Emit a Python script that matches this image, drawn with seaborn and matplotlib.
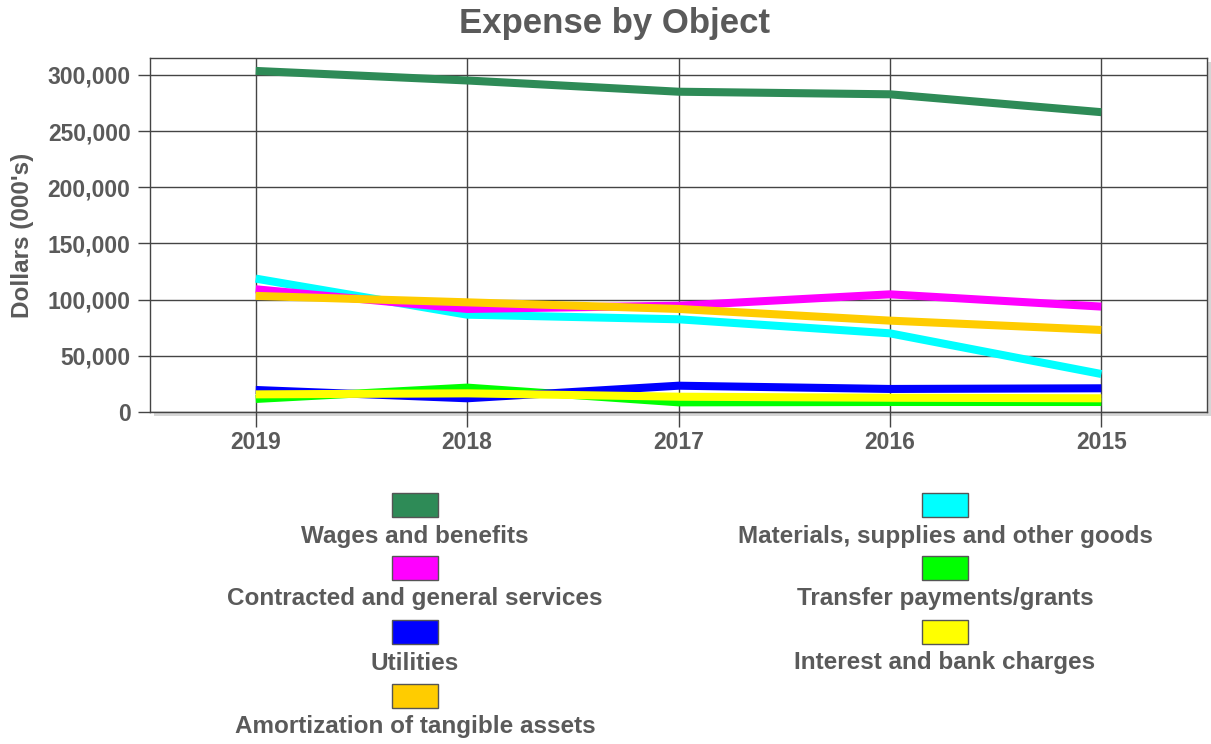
import matplotlib.pyplot as plt
import matplotlib.patheffects as pe
import pandas as pd
import seaborn as sns
from matplotlib.patches import Rectangle
from matplotlib.ticker import FuncFormatter

# Data (thousands of dollars)
years = ['2019', '2018', '2017', '2016', '2015']
categories = ['Wages and benefits', 'Materials, supplies and other goods',
              'Contracted and general services', 'Transfer payments/grants',
              'Utilities', 'Interest and bank charges',
              'Amortization of tangible assets']
wages = [303500, 295000, 285000, 282700, 266800]
materials = [118700, 86600, 82500, 70000, 33800]
contracted = [109200, 91700, 94600, 104700, 93800]
transfers = [11600, 21700, 8600, 8900, 8900]
utilities = [19600, 12200, 23400, 20500, 21100]
interest = [15700, 16600, 13600, 12700, 12200]
amortization = [103300, 97600, 91700, 81300, 73000]
colors = ['#2e8b57', '#00ffff', '#ff00ff', '#00ff00', '#0000ff', '#ffff00', '#ffcc00']

values = [wages, materials, contracted, transfers, utilities, interest, amortization]
df = pd.DataFrame({
    'year': years * len(categories),
    'category': [c for c in categories for _ in years],
    'value': [v for vals in values for v in vals],
})

sns.set_style('white')
plt.rcParams['font.family'] = ['Liberation Sans', 'DejaVu Sans']
plt.rcParams['font.weight'] = 'bold'
txt = '#5a5a5a'
W, H = 1211, 744

fig = plt.figure(figsize=(W / 100, H / 100), dpi=100)
ax = fig.add_axes([150 / W, 1 - 412 / H, 1057 / W, 354 / H])
ax.patch.set_path_effects([pe.SimplePatchShadow(offset=(3, -3), shadow_rgbFace='#bbbbbb', alpha=0.6),
                           pe.Normal()])

sns.lineplot(data=df, x='year', y='value', hue='category', hue_order=categories,
             palette=colors, linewidth=5.8, legend=False, sort=False, ax=ax,
             solid_capstyle='butt')

ax.set_xlim(-0.5, 4.5)
ax.set_ylim(0, 315000)
ax.set_yticks(range(0, 300001, 50000))
ax.yaxis.set_major_formatter(FuncFormatter(lambda v, p: f'{int(v):,}'))
ax.grid(True, color='#444444', linewidth=1)
ax.set_axisbelow(True)
for s in ax.spines.values():
    s.set_color('#444444')
    s.set_linewidth(1)
ax.tick_params(axis='both', width=1, color='#444444', labelsize=16.5,
               labelcolor=txt, left=True, bottom=True)
ax.tick_params(axis='y', length=9, pad=5)
ax.tick_params(axis='x', length=11, pad=3)
ax.set_xlabel('')
ax.set_ylabel("Dollars (000's)", fontsize=17.5, color=txt, fontweight='bold', labelpad=10)

fig.text(615 / W, 1 - 24 / H, 'Expense by Object', ha='center', va='center',
         fontsize=25, color=txt, fontweight='bold')

# Legend: swatch above centered label, two columns
col_x = [415, 945]
row_y = [505, 568, 632, 696]
for i, (name, col) in enumerate(zip(categories, colors)):
    cx = col_x[i % 2]
    sy = row_y[i // 2]
    fig.add_artist(Rectangle(((cx - 23) / W, 1 - (sy + 12) / H), 46 / W, 24 / H,
                             transform=fig.transFigure, facecolor=col,
                             edgecolor='#555555', linewidth=1))
    fig.text(cx / W, 1 - (sy + 31) / H, name, ha='center', va='center',
             fontsize=17.5, color=txt, fontweight='bold')

fig.savefig('out.png', dpi=100)
